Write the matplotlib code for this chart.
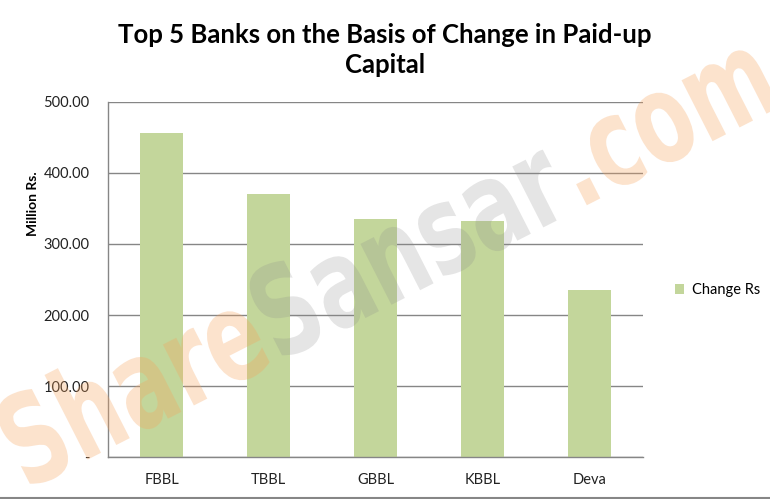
import numpy as np
import matplotlib
matplotlib.use('Agg')
from matplotlib import pyplot as plt
from matplotlib.lines import Line2D
from matplotlib.textpath import TextPath
from matplotlib.patches import PathPatch
from matplotlib.font_manager import FontProperties
from matplotlib.transforms import Affine2D

# data
banks = ['FBBL', 'TBBL', 'GBBL', 'KBBL', 'Deva']
change_rs = [456, 370, 335, 332, 235]
yticks = [0, 100, 200, 300, 400, 500]
ytick_labels = ['-', '100.00', '200.00', '300.00', '400.00', '500.00']

# watermark pieces
wm_words = ['Share', 'Sansar', '.com']
wm_colors = ['#f7a35c', '#8a8a8a', '#f7a35c']
wm_alphas = [0.3, 0.22, 0.3]

plt.rcParams['font.family'] = ['Lato', 'DejaVu Sans']

fig = plt.figure(figsize=(7.7, 4.99), dpi=100)
ax = fig.add_axes([0.1406, 0.0836, 0.6944, 0.7126])

x = np.arange(len(banks))
ax.bar(x, change_rs, width=0.4, color='#c3d69b', label='Change Rs', zorder=2)

ax.set_xlim(-0.5, len(banks) - 0.5)
ax.set_ylim(0, 500)
ax.set_yticks(yticks)
ax.set_yticklabels(ytick_labels)
ax.set_xticks(x)
ax.set_xticklabels(banks)
ax.tick_params(length=0, labelsize=10.5, colors='#222222')
ax.tick_params(axis='x', pad=11)
ax.tick_params(axis='y', pad=13.5)
ax.yaxis.grid(True, color='#868686', linewidth=1, zorder=1)
for s in ['top', 'right']:
    ax.spines[s].set_visible(False)
for s in ['left', 'bottom']:
    ax.spines[s].set_color('#868686')
    ax.spines[s].set_linewidth(1)

fig.text(33 / 770, 1 - 204 / 499, 'Million Rs.', rotation=90, ha='center', va='center',
         fontsize=10, fontweight='bold')
fig.text(0.5, 1 - 50 / 499, 'Top 5 Banks on the Basis of Change in Paid-up\nCapital',
         ha='center', va='center', fontsize=18.5, fontweight='bold', linespacing=1.3)

ax.legend(loc='center left', bbox_to_anchor=(1.035, 0.47), frameon=False,
          handlelength=0.6, handleheight=0.6, handletextpad=0.6, fontsize=10.5)

# watermark, drawn as narrow rotated text paths in pixel space
fp = FontProperties(family='DejaVu Sans', weight='bold')
wm_trans = Affine2D().scale(0.86, 1.25).rotate_deg(27).translate(26, 8)
xoff = 0
for word, col, al in zip(wm_words, wm_colors, wm_alphas):
    tp = TextPath((xoff, 0), word, size=100, prop=fp)
    patch = PathPatch(tp, facecolor=col, edgecolor='none', alpha=al, zorder=5)
    patch.set_transform(wm_trans)
    fig.add_artist(patch)
    xoff = tp.get_extents().x1 + 6

fig.add_artist(Line2D([0, 1], [0.002, 0.002], color='#868686', linewidth=1.5,
                      transform=fig.transFigure))

fig.savefig('out.png', dpi=100)
